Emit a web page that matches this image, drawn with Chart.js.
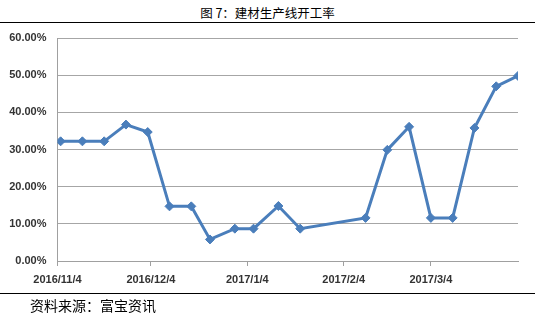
<!DOCTYPE html>
<html>
<head>
<meta charset="utf-8">
<script src="https://cdn.jsdelivr.net/npm/chart.js@4/dist/chart.umd.min.js"></script>
<style>
  html, body { margin: 0; padding: 0; background: #fff; }
  #wrap { position: relative; width: 535px; height: 322px; overflow: hidden; }
  #title { position: absolute; left: 0; top: 3px; width: 535px; text-align: center;
           font: 12.5px "Noto Sans CJK SC", sans-serif; color: #000; }
  .rule { position: absolute; left: 0; width: 535px; height: 1px; background: #000; }
  #source { position: absolute; left: 30px; top: 295px; font: 14px "Noto Sans CJK SC", sans-serif; color: #000; }
  canvas { position: absolute; left: 0; top: 0; }
</style>
</head>
<body>
<div id="wrap">
  <div id="title">图 7：建材生产线开工率</div>
  <div class="rule" style="top:22px"></div>
  <canvas id="c" width="535" height="322"></canvas>
  <div class="rule" style="top:293px"></div>
  <div id="source">资料来源：富宝资讯</div>
</div>
<script>
// 日期（距 2016/11/4 的天数）
const startDate = new Date(2016, 10, 4);
const dayOffsets = [1, 8, 15, 22, 29, 36, 43, 49, 57, 63, 71, 78, 99, 106, 113, 120, 127, 134, 141, 148];
// 开工率 %
const rates = [32.2, 32.2, 32.2, 36.7, 34.7, 14.7, 14.7, 5.8, 8.7, 8.7, 14.8, 8.7, 11.6, 29.9, 36.1, 11.6, 11.6, 35.8, 47.0, 49.8];
// x 轴刻度
const xTickDays = [0, 30, 61, 92, 120];
const yTicks = [0, 10, 20, 30, 40, 50, 60];

function fmtDay(d) {
  const dt = new Date(startDate.getTime() + d * 86400000);
  return dt.getFullYear() + "/" + (dt.getMonth() + 1) + "/" + dt.getDate();
}

const points = dayOffsets.map((d, i) => ({ x: d, y: rates[i] }));

new Chart(document.getElementById("c"), {
  type: "line",
  data: {
    datasets: [{
      data: points,
      borderColor: "#4a7ebb",
      backgroundColor: "#4a7ebb",
      borderWidth: 3,
      pointStyle: "rectRot",
      pointRadius: 4.5,
      pointBorderWidth: 1,
      tension: 0
    }]
  },
  options: {
    responsive: false,
    animation: false,
    layout: { padding: { top: 38, right: 17, left: 0, bottom: 0 } },
    plugins: { legend: { display: false }, tooltip: { enabled: false } },
    scales: {
      x: {
        type: "linear",
        min: 0,
        max: 148,
        afterBuildTicks: (ax) => { ax.ticks = xTickDays.map(v => ({ value: v })); },
        afterFit: (ax) => { ax.height = 61; },
        ticks: {
          callback: (v) => fmtDay(v),
          font: { family: "Liberation Sans", size: 11, weight: "bold" },
          color: "#333",
          padding: 7,
          maxRotation: 0
        },
        grid: { drawOnChartArea: false, drawTicks: true, tickLength: 5, color: "#a0a0a0" },
        border: { color: "#a0a0a0" }
      },
      y: {
        min: 0,
        max: 60,
        afterBuildTicks: (ax) => { ax.ticks = yTicks.map(v => ({ value: v })); },
        afterFit: (ax) => { ax.width = 57.5; },
        ticks: {
          callback: (v) => v.toFixed(2) + "%",
          font: { family: "Liberation Sans", size: 11, weight: "bold" },
          color: "#333",
          padding: 11
        },
        grid: { color: "#a6a6a6", drawTicks: false },
        border: { color: "#a0a0a0" }
      }
    }
  }
});
</script>
</body>
</html>
